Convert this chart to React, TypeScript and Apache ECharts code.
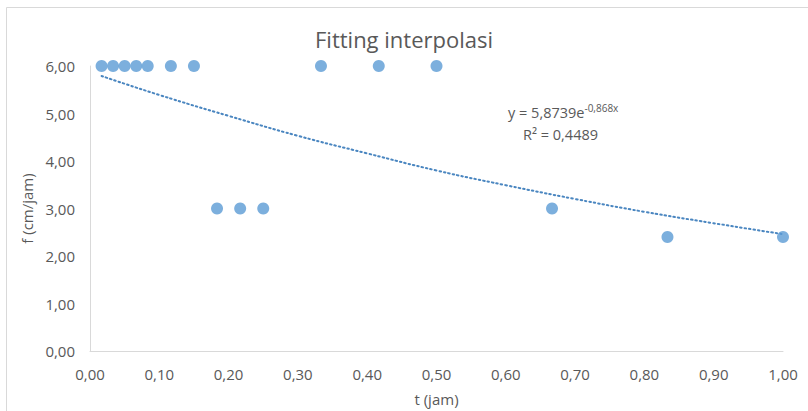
import React, { useEffect, useRef } from "react";
import * as echarts from "echarts";

const tValues = [0.0167, 0.0333, 0.05, 0.0667, 0.0833, 0.1167, 0.15, 0.1833, 0.2167, 0.25, 0.3333, 0.4167, 0.5, 0.6667, 0.8333, 1.0];
const fValues = [6, 6, 6, 6, 6, 6, 6, 3, 3, 3, 6, 6, 6, 3, 2.4, 2.4];
const trendT = [0.0167, 0.1, 0.2, 0.3, 0.4, 0.5, 0.6, 0.7, 0.8, 0.9, 1.0];
const trendF = [5.79, 5.39, 4.95, 4.53, 4.16, 3.8, 3.49, 3.2, 2.93, 2.69, 2.46];

const titleText = "Fitting interpolasi";
const xName = "t (jam)";
const yName = "f (cm/jam)";

const fmt = (v: number) => v.toFixed(2).replace(".", ",");
const FONT = "'Open Sans', 'Liberation Sans', sans-serif";
const TXT = "#595959";
const BLUE = "#5B9BD5";

export default function App() {
  const ref = useRef<HTMLDivElement>(null);
  useEffect(() => {
    document.body.style.margin = "0";
    const chart = echarts.init(ref.current!, null, { renderer: "svg" });
    chart.setOption({
      animation: false,
      backgroundColor: "#fff",
      textStyle: { fontFamily: FONT },
      title: {
        text: titleText,
        left: "center",
        top: 23,
        textStyle: { fontFamily: FONT, fontSize: 22, fontWeight: "normal", color: TXT },
      },
      grid: { left: 90, right: 25, top: 66, bottom: 57 },
      xAxis: {
        type: "value",
        min: 0,
        max: 1,
        interval: 0.1,
        name: xName,
        nameLocation: "middle",
        nameGap: 40,
        nameTextStyle: { fontFamily: FONT, fontSize: 15, color: TXT },
        axisLine: { show: true, onZero: false, lineStyle: { color: "#d9d9d9", width: 1 } },
        axisTick: { show: false },
        splitLine: { show: false },
        axisLabel: { formatter: (v: number) => fmt(v), fontFamily: FONT, fontSize: 15, color: TXT, margin: 15 },
      },
      yAxis: {
        type: "value",
        min: 0,
        max: 6,
        interval: 1,
        name: yName,
        nameLocation: "middle",
        nameGap: 55,
        nameRotate: 90,
        nameTextStyle: { fontFamily: FONT, fontSize: 15, color: TXT },
        axisLine: { show: true, lineStyle: { color: "#d9d9d9", width: 1 } },
        axisTick: { show: false },
        splitLine: { show: false },
        axisLabel: { formatter: (v: number) => fmt(v), fontFamily: FONT, fontSize: 15, color: TXT, margin: 15 },
      },
      series: [
        {
          type: "line",
          data: trendT.map((t, i) => [t, trendF[i]]),
          smooth: true,
          showSymbol: false,
          symbol: "none",
          lineStyle: { color: "#4a86c0", width: 2, type: [1.5, 3], cap: "round" },
          z: 1,
        },
        {
          type: "scatter",
          data: tValues.map((t, i) => [t, fValues[i]]),
          symbolSize: 12,
          itemStyle: { color: BLUE },
          z: 2,
        },
      ],
      graphic: [
        {
          type: "rect",
          shape: { x: 6.5, y: 7.5, width: 900, height: 500 },
          style: { fill: "none", stroke: "#d9d9d9", lineWidth: 1 },
          silent: true,
        },
        {
          type: "text",
          x: 508,
          y: 112,
          style: {
            text: "{a|y = 5,8739e}{s|-0,868x}",
            verticalAlign: "middle",
            rich: {
              a: { fontFamily: FONT, fontSize: 14.5, fill: TXT, lineHeight: 16 },
              s: { fontFamily: FONT, fontSize: 10, fill: TXT, lineHeight: 16, padding: [0, 0, 8, 0] },
            },
          } as any,
        },
        {
          type: "text",
          x: 523,
          y: 134,
          style: {
            text: "R² = 0,4489",
            font: `14.5px ${FONT}`,
            fill: TXT,
            verticalAlign: "middle",
          },
        },
      ],
    });
    return () => chart.dispose();
  }, []);
  return <div ref={ref} style={{ width: 808, height: 411 }} />;
}
